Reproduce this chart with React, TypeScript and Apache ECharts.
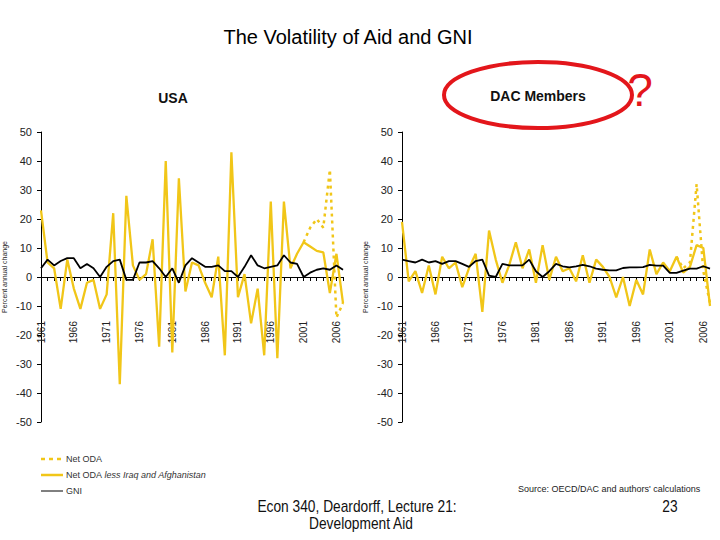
import { useEffect, useRef } from "react";
import * as echarts from "echarts";

const YEARS = [
  "1961", "1962", "1963", "1964", "1965", "1966", "1967", "1968", "1969", "1970",
  "1971", "1972", "1973", "1974", "1975", "1976", "1977", "1978", "1979", "1980",
  "1981", "1982", "1983", "1984", "1985", "1986", "1987", "1988", "1989", "1990",
  "1991", "1992", "1993", "1994", "1995", "1996", "1997", "1998", "1999", "2000",
  "2001", "2002", "2003", "2004", "2005", "2006", "2007",
];

const Y_TICKS = { min: -50, max: 50, step: 10 };

// USA, percent annual change
const USA_ODA_EX = [
  23, 5, 3, -11, 6, -4, -11, -2, -1, -11,
  -6, 22, -37, 28, 4, -1, 1, 13, -24, 40,
  -26, 34, -5, 5, 4, -2, -7, 7, -27, 43,
  -7, 1, -16, -4, -27, 26, -28, 26, 3, 8,
  12, 10.5, 9, 8.5, -5.5, 8, -9,
];
const USA_ODA = [
  null, null, null, null, null, null, null, null, null, null,
  null, null, null, null, null, null, null, null, null, null,
  null, null, null, null, null, null, null, null, null, null,
  null, null, null, null, null, null, null, null, null, null,
  12, 17, 20, 17, 37, -14, -9,
];
const USA_GNI = [
  3, 6, 4, 5.5, 6.5, 6.5, 3, 4.5, 3, 0,
  3.5, 5.5, 6, -1, -1, 5, 5, 5.5, 3, 0,
  3, -2, 4, 6.5, 5, 3.5, 3.5, 4, 2, 2,
  0, 3.5, 7.5, 4, 3, 3.5, 4, 7.5, 5, 4.5,
  0, 1.5, 2.5, 3, 2.5, 4, 2.5,
];

// DAC members, percent annual change
const DAC_ODA_EX = [
  19, -1.5, 2, -5.5, 4, -6, 7, 3, 5, -3.5,
  3, 8, -12, 16, 6, -2, 4, 12, 3, 9.5,
  -2, 11, -1, 7, 2, 3, -1.5, 7.5, -2, 6,
  3.5, 0, -7, 0, -10, -1, -6, 9.5, 1, 5,
  2, 7, 1.5, 3.5, 11, 10, -10,
];
const DAC_ODA = [
  null, null, null, null, null, null, null, null, null, null,
  null, null, null, null, null, null, null, null, null, null,
  null, null, null, null, null, null, null, null, null, null,
  null, null, null, null, null, null, null, null, null, null,
  null, 7, 3, 5, 32, 2, -9,
];
const DAC_GNI = [
  6, 5.5, 5, 6, 5, 5.5, 4.5, 5.5, 5.5, 4.5,
  3.5, 5.5, 6, 0.5, 0, 4.5, 4, 4, 4, 6,
  2, 0, 2, 4.5, 3.7, 3.3, 3.7, 4.2, 3.7, 2.9,
  2.5, 2.3, 2.3, 3.1, 3.3, 3.3, 3.4, 4.2, 3.9, 3.9,
  1.4, 1.4, 2.2, 2.9, 2.9, 3.7, 2.9,
];

const NAME_ODA = "Net ODA";
const NAME_ODA_EX = "Net ODA less Iraq and Afghanistan";
const NAME_GNI = "GNI";

const YELLOW = "#f1c618";
const RED = "#e3161b";
const FONT = "Arial, 'Liberation Sans', sans-serif";

const GRID_H = 290;

function xAxis(gridIndex: number) {
  return {
    type: "category",
    gridIndex,
    data: YEARS,
    boundaryGap: false,
    // sit the whole axis (line, ticks, labels) on the zero line
    offset: -GRID_H / 2,
    axisLine: { onZero: false, lineStyle: { color: "#000", width: 1 } },
    axisTick: { show: true, interval: 0, length: 4, lineStyle: { color: "#000" } },
    axisLabel: { interval: 4, rotate: 90, margin: 44, fontSize: 10, color: "#222", fontFamily: FONT },
    splitLine: { show: false },
  };
}

function yAxis(gridIndex: number) {
  return {
    type: "value",
    gridIndex,
    min: Y_TICKS.min,
    max: Y_TICKS.max,
    interval: Y_TICKS.step,
    name: "Percent annual change",
    nameLocation: "middle",
    nameRotate: 90,
    nameGap: 33,
    nameTextStyle: { fontSize: 7, color: "#222", fontFamily: FONT },
    axisLine: { show: true, lineStyle: { color: "#000", width: 1 } },
    axisTick: { show: true, length: 4, lineStyle: { color: "#000" } },
    axisLabel: { fontSize: 11, color: "#222", margin: 9, fontFamily: FONT },
    splitLine: { show: false },
  };
}

function lines(idx: number, oda: (number | null)[], odaEx: number[], gni: number[]) {
  return [
    {
      name: NAME_ODA_EX, type: "line", xAxisIndex: idx, yAxisIndex: idx, data: odaEx,
      symbol: "none", lineStyle: { color: YELLOW, width: 2.3 }, itemStyle: { color: YELLOW },
    },
    {
      name: NAME_ODA, type: "line", xAxisIndex: idx, yAxisIndex: idx, data: oda,
      symbol: "none", lineStyle: { color: YELLOW, width: 2.5, type: [3, 4] }, itemStyle: { color: YELLOW },
    },
    {
      name: NAME_GNI, type: "line", xAxisIndex: idx, yAxisIndex: idx, data: gni,
      symbol: "none", lineStyle: { color: "#000", width: 1.8 }, itemStyle: { color: "#000" },
    },
  ];
}

function legendRow(y: number, stroke: string, width: number, dash: number[] | null, text: string) {
  return [
    {
      type: "line",
      shape: { x1: 41, y1: y, x2: 63, y2: y },
      style: { stroke, lineWidth: width, lineDash: dash || undefined },
    },
    {
      type: "text", x: 66, y,
      style: {
        text, fontSize: 9, fontFamily: FONT, fill: "#333", align: "left", verticalAlign: "middle",
        rich: { i: { fontSize: 9, fontStyle: "italic", fontFamily: FONT, fill: "#333" } },
      },
    },
  ];
}

export default function App() {
  const chartRef = useRef<HTMLDivElement>(null);

  useEffect(() => {
    if (!chartRef.current) return;
    const chart = echarts.init(chartRef.current, null, { renderer: "svg" });

    chart.setOption({
      animation: false,
      backgroundColor: "#fff",
      textStyle: { fontFamily: FONT },
      grid: [
        { left: 41, top: 132, width: 302, height: GRID_H },
        { left: 402, top: 132, width: 308, height: GRID_H },
      ],
      xAxis: [xAxis(0), xAxis(1)],
      yAxis: [yAxis(0), yAxis(1)],
      graphic: [
        {
          type: "text", x: 348, y: 37,
          style: { text: "The Volatility of Aid and GNI", fontSize: 20, fontFamily: FONT, fill: "#000", align: "center", verticalAlign: "middle" },
        },
        {
          type: "text", x: 173, y: 98,
          style: { text: "USA", fontSize: 14, fontWeight: "bold", fontFamily: FONT, fill: "#111", align: "center", verticalAlign: "middle" },
        },
        {
          type: "text", x: 538, y: 96,
          style: { text: "DAC Members", fontSize: 14, fontWeight: "bold", fontFamily: FONT, fill: "#111", align: "center", verticalAlign: "middle" },
        },
        {
          type: "ellipse",
          shape: { cx: 538, cy: 95, rx: 94, ry: 33 },
          style: { fill: "none", stroke: RED, lineWidth: 4 },
        },
        {
          type: "text", x: 640, y: 90,
          style: { text: "?", fontSize: 46, fontFamily: FONT, fill: RED, align: "center", verticalAlign: "middle" },
        },
        ...legendRow(459, YELLOW, 2.5, [4, 4], NAME_ODA),
        ...legendRow(475, YELLOW, 2.5, null, "Net ODA {i|less Iraq and Afghanistan}"),
        ...legendRow(491, "#000", 1, null, NAME_GNI),
        {
          type: "text", x: 518, y: 489,
          style: { text: "Source: OECD/DAC and authors' calculations", fontSize: 9, fontFamily: FONT, fill: "#222", align: "left", verticalAlign: "middle" },
        },
        {
          type: "text", x: 357, y: 506, scaleX: 0.86,
          style: { text: "Econ 340, Deardorff, Lecture 21:", fontSize: 16, fontFamily: FONT, fill: "#111", align: "center", verticalAlign: "middle" },
        },
        {
          type: "text", x: 361, y: 523, scaleX: 0.86,
          style: { text: "Development Aid", fontSize: 16, fontFamily: FONT, fill: "#111", align: "center", verticalAlign: "middle" },
        },
        {
          type: "text", x: 670, y: 506, scaleX: 0.86,
          style: { text: "23", fontSize: 16, fontFamily: FONT, fill: "#111", align: "center", verticalAlign: "middle" },
        },
      ],
      series: [
        ...lines(0, USA_ODA, USA_ODA_EX, USA_GNI),
        ...lines(1, DAC_ODA, DAC_ODA_EX, DAC_GNI),
      ],
    });

    return () => {
      chart.dispose();
    };
  }, []);

  return (
    <div
      ref={chartRef}
      style={{ position: "fixed", left: 0, top: 0, width: 720, height: 540 }}
    />
  );
}
